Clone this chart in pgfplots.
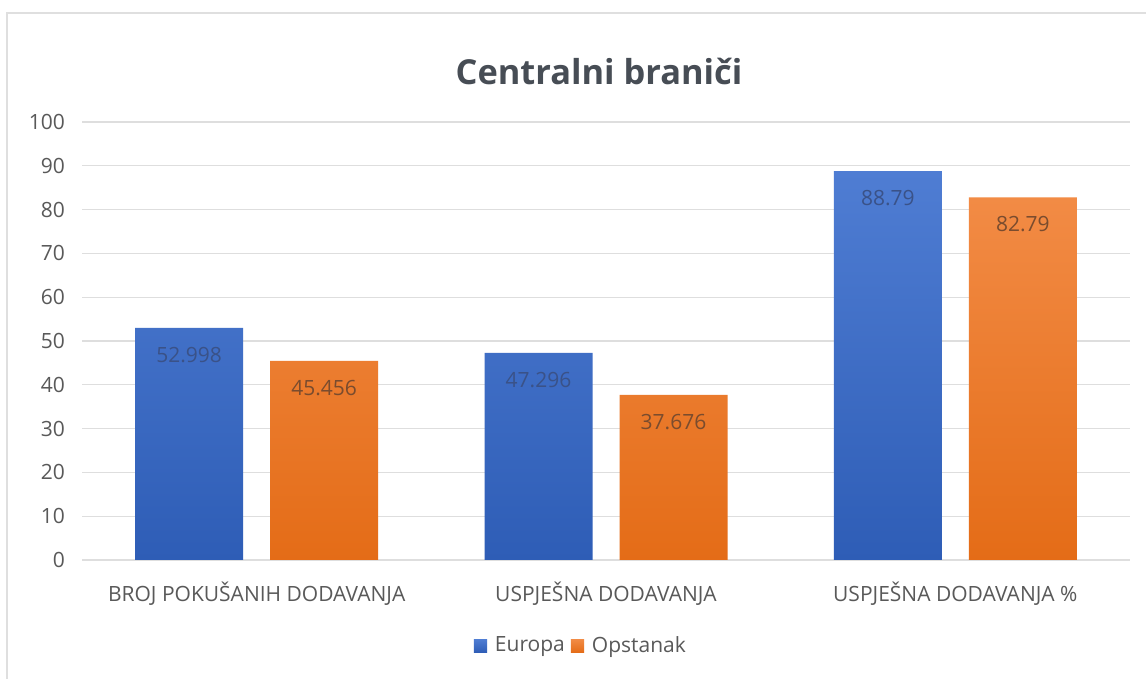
\documentclass[border=0pt]{standalone}
\usepackage{pgfplots}
\pgfplotsset{compat=1.18}
\usepackage{fontspec}
\setmainfont{Open Sans}
\definecolor{bluetop}{HTML}{4F7DD3}
\definecolor{bluebot}{HTML}{2E5DB6}
\definecolor{orangetop}{HTML}{F28B45}
\definecolor{orangebot}{HTML}{E46C17}
\definecolor{bluelab}{HTML}{3A5288}
\definecolor{orangelab}{HTML}{7A4C2E}
\definecolor{ticktext}{HTML}{595959}
\definecolor{titletext}{HTML}{474D55}
\begin{document}
\begin{tikzpicture}
\useasboundingbox (0,0) rectangle (573pt,339.5pt);
\fill[white] (0,0) rectangle (573pt,339.5pt);
\draw[gray!25, line width=1pt] (3.5pt,-5pt) -- (3.5pt,333pt) -- (590pt,333pt);
\node[font=\fontsize{17.2}{20}\selectfont\bfseries, text=titletext] at (299.5pt,303.5pt) {Centralni braniči};
\begin{axis}[
  at={(41pt,59.5pt)}, anchor=south west,
  scale only axis, width=524pt, height=219pt,
  ymin=0, ymax=100, ytick={0,10,...,100},
  xmin=-0.5, xmax=2.5, xtick={0,1,2},
  xticklabels={BROJ POKUŠANIH DODAVANJA, USPJEŠNA DODAVANJA, USPJEŠNA DODAVANJA \%},
  /pgf/number format/assume math mode=true,
  ybar=13.5pt, bar width=54pt,
  axis line style={draw=none},
  major tick style={draw=none},
  ymajorgrids, grid style={draw=black!13, line width=0.6pt},
  ticklabel style={font=\fontsize{10.5}{12}\selectfont, text=ticktext},
  yticklabel style={xshift=-5pt},
  xticklabel style={yshift=-3pt},
  legend style={at={(0.477,-0.196)}, anchor=center, draw=none, legend columns=-1,
    font=\fontsize{10.5}{12}\selectfont, text=ticktext,
    /tikz/every even column/.append style={column sep=1pt}},
  legend image code/.code={\fill[#1] (0pt,-3.3pt) rectangle (6.6pt,3.3pt); \path (8.5pt,0pt);},
  point meta=explicit symbolic,
  nodes near coords,
  nodes near coords style={anchor=center, yshift=-13.5pt, font=\fontsize{10.5}{12}\selectfont},
]
\addplot[draw=none, top color=bluetop, bottom color=bluebot, nodes near coords style={text=bluelab}]
  coordinates {(0,52.998) [52.998] (1,47.296) [47.296] (2,88.79) [88.79]};
\addplot[draw=none, top color=orangetop, bottom color=orangebot, nodes near coords style={text=orangelab}]
  coordinates {(0,45.456) [45.456] (1,37.676) [37.676] (2,82.79) [82.79]};
\legend{Europa, Opstanak}
\end{axis}
\end{tikzpicture}
\end{document}
